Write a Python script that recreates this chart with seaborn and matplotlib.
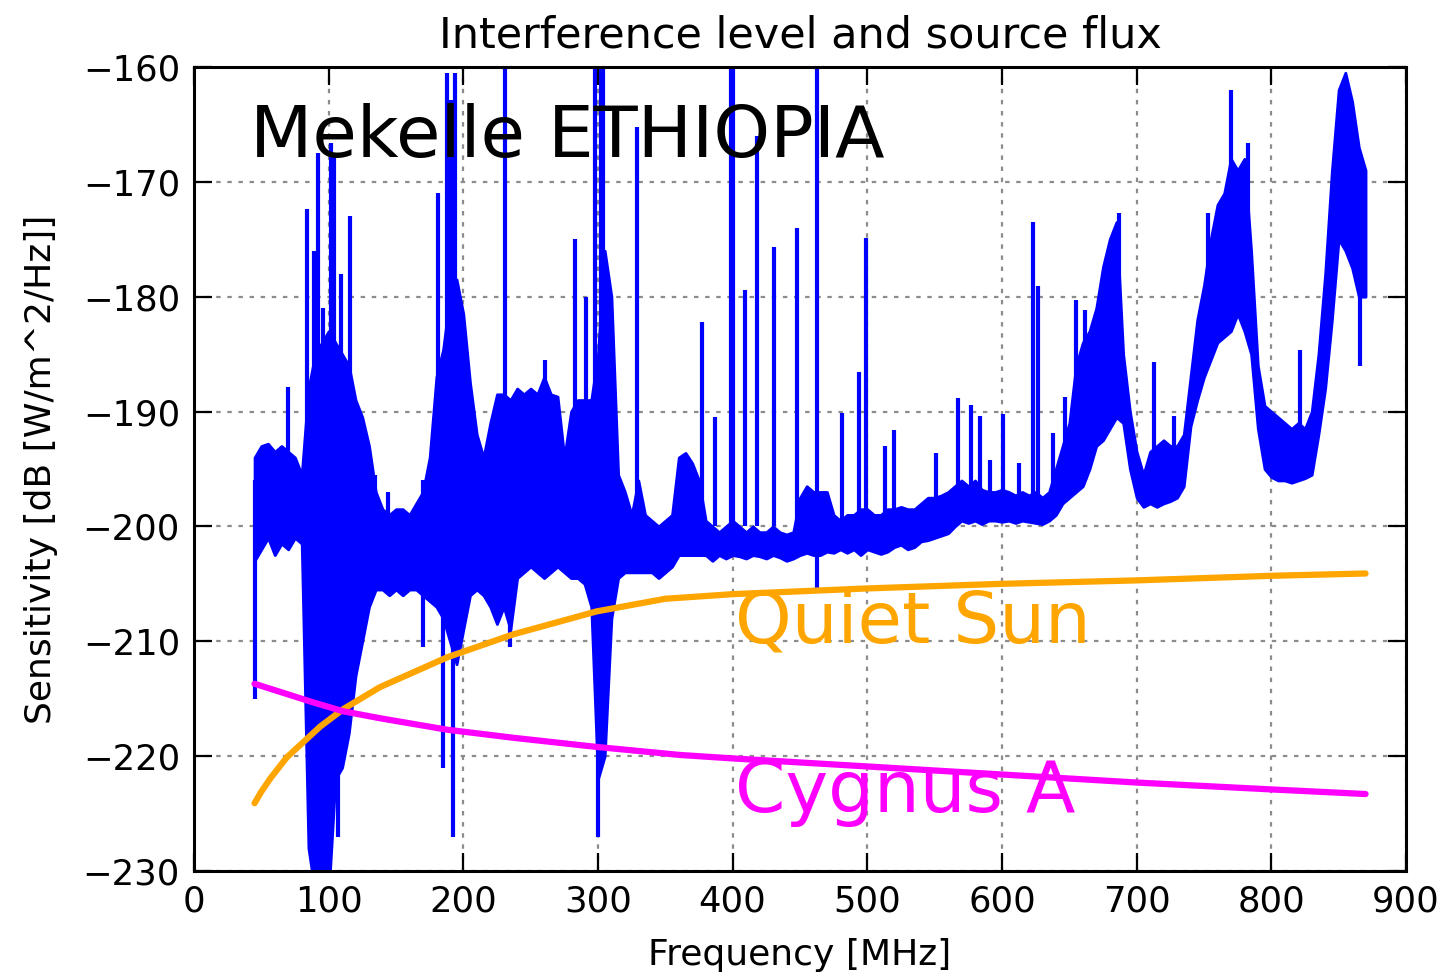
import matplotlib
matplotlib.use("Agg")
import matplotlib.pyplot as plt
import seaborn as sns

band_freq = list(range(45, 875, 5))
band_high = [
    -194, -193, -192.8, -193.5, -193, -193.5, -194, -195.5, -188, -185,
    -184, -183, -184, -185, -186, -189, -190.5, -193, -197, -198.5,
    -199, -198.5, -198.5, -199, -198, -197, -194, -187, -184.6, -180,
    -178.5, -181.5, -187.5, -192, -194, -191, -188.5, -188.5, -189, -188,
    -188.5, -188, -188.5, -187, -188.5, -188.7, -194, -190, -189, -189,
    -189, -185, -176, -180, -195.5, -197, -199, -196, -199, -199.5,
    -200, -199.5, -199, -194, -193.6, -194.5, -196, -199.5, -200, -200.5,
    -200, -199.5, -200, -200.5, -200, -200.5, -200.5, -200, -200.5, -200.7,
    -200.5, -197.5, -196.5, -197, -197, -197, -199, -199.5, -199, -199,
    -198.5, -198.5, -199, -199, -198.5, -198.5, -198.3, -198.5, -198.5, -198,
    -197.5, -197.5, -197.3, -197, -196.5, -196, -196.5, -196, -196.8, -197,
    -197, -196.8, -197, -197.3, -197, -197.3, -197, -197.5, -197, -195,
    -193, -191, -186, -184, -183, -181, -177.4, -175, -173.5, -185,
    -190, -193.5, -195.5, -193.5, -193, -192.5, -193, -193, -192, -187,
    -182, -179, -175, -172, -171, -168, -169, -168, -176, -186,
    -189.5, -190, -190.5, -191, -191.5, -191, -191.5, -190, -185, -178,
    -169, -162, -160.5, -163, -167, -169,
]
band_low = [
    -203, -202, -201, -202.5, -201.5, -202, -201, -201.5, -228, -232,
    -232, -232, -222, -221, -218, -213, -210, -207, -205.5, -205.5,
    -206, -205.5, -206, -205.5, -205.5, -206, -206.5, -207, -208, -210,
    -212, -209, -206, -205.5, -206, -207, -208.5, -207, -209, -204.5,
    -204, -203.5, -204, -204.5, -204, -203.5, -204, -204.5, -204.5, -205,
    -207, -222, -220, -208, -204.5, -204, -204, -204, -204, -204,
    -204.5, -204, -203.5, -202.5, -202.5, -202.5, -202.5, -202.5, -203, -202.5,
    -202.8, -202.5, -202.6, -202.8, -202.5, -202.6, -202.8, -202.5, -202.7, -203,
    -202.8, -202.5, -202.3, -202.5, -202.5, -202.2, -202.3, -202, -202.3, -202,
    -202.5, -202, -202.2, -202.4, -202.2, -201.8, -201.6, -202, -201.8, -201.3,
    -201.2, -201, -200.8, -200.6, -200, -199.5, -199.7, -199.5, -199.8, -199.5,
    -199.5, -199.6, -199.5, -199.7, -199.5, -199.6, -199.7, -199.8, -199.5, -199,
    -198, -197.5, -197, -196.5, -195, -193, -192.5, -191.5, -190.5, -191,
    -195, -197.5, -198.3, -198, -198.3, -198, -197.8, -197.5, -196.5, -191.3,
    -189, -187, -185.5, -184, -183.5, -183, -181.5, -183, -185, -191.5,
    -195, -195.7, -196, -196, -196.2, -196, -195.8, -195.5, -192, -188,
    -182, -175, -176, -177.5, -180, -180,
]

# narrow interference lines sticking out of the band
spike_freq = [45, 70, 84, 89, 92, 96, 102, 104, 107, 109, 116, 134.5, 144, 170,
              181, 185, 188, 191, 192, 194, 231, 235, 261, 283, 291, 298, 300,
              302, 304, 329, 377, 387, 399, 400.5, 409, 418, 431, 448, 463,
              481, 494, 499, 513, 520, 551, 567, 577, 584, 591, 601, 613, 623,
              627, 638, 647, 655, 662, 687, 713, 728, 753, 770, 783, 821, 866]
spike_top = [-196, -187.9, -172.4, -176, -167.5, -181, -166.6, -167.5, -200, -178,
             -173, -195.5, -197, -196, -171, -190, -160.5, -162.9, -195,
             -160.5, -160, -195, -185.5, -175, -180, -160, -200, -160, -160,
             -165.2, -182.2, -190.5, -160, -160, -179.4, -166, -175.7, -174,
             -160, -190.1, -186.6, -174.9, -193, -191.6, -193.6, -188.8,
             -189.4, -190.4, -194.2, -190.2, -194.5, -173.5, -179.1, -191.9,
             -188.7, -180.3, -181.2, -172.7, -185.7, -190.4, -172.7, -162,
             -166.6, -184.6, -172]
spike_bottom = [-215, -200, -195, -195, -190, -190, -190, -190, -227, -190, -195,
                -205, -205, -210.5, -195, -221, -190, -190, -227, -190, -195,
                -210.5, -195, -195, -195, -200, -227, -200, -200, -200, -200,
                -200, -200, -200, -200, -200, -200, -200, -205.5, -200, -200,
                -200, -200, -200, -199, -198, -198, -198, -198, -198, -198,
                -198, -198, -198, -197, -196, -196, -190, -197, -197, -186,
                -182, -183, -195, -186]

# source flux curves
sun_freq = [45, 50, 57, 69, 94, 111, 138, 188, 237, 299, 350, 400, 500, 600, 700, 800, 870]
sun_level = [-224.1, -223.1, -221.9, -220.1, -217.4, -215.9, -214.0, -211.4, -209.4,
             -207.4, -206.3, -205.9, -205.4, -205.0, -204.7, -204.3, -204.1]
cyg_freq = [45, 88, 111, 138, 188, 237, 299, 361, 400, 500, 600, 700, 800, 870]
cyg_level = [-213.7, -215.3, -216.1, -216.7, -217.7, -218.4, -219.2, -219.9, -220.2,
             -220.9, -221.6, -222.3, -222.9, -223.3]

sns.set_style("ticks")
plt.rcParams['font.family'] = ['DejaVu Sans']
plt.rcParams['text.color'] = 'black'
plt.rcParams['axes.labelcolor'] = 'black'
plt.rcParams['xtick.color'] = 'black'
plt.rcParams['ytick.color'] = 'black'

fig, ax = plt.subplots(figsize=(14.42, 9.76), dpi=100)
fig.subplots_adjust(left=0.1345, right=0.975, top=0.9314, bottom=0.1076)

blue = '#0000ff'
ax.fill_between(band_freq, band_low, band_high, color=blue, lw=2, edgecolor=blue, zorder=2)
ax.vlines(spike_freq, spike_bottom, spike_top, color=blue, lw=3, zorder=2)

sns.lineplot(x=sun_freq, y=sun_level, color='#ffa500', lw=4.5, ax=ax, zorder=3)
sns.lineplot(x=cyg_freq, y=cyg_level, color='#ff00ff', lw=4.5, ax=ax, zorder=3)

ax.text(41.6, -167.8, 'Mekelle ETHIOPIA', fontsize=52, color='black', zorder=4)
ax.text(401.6, -210.1, 'Quiet Sun', fontsize=52, color='#ffa500', zorder=4)
ax.text(401.6, -224.9, 'Cygnus A', fontsize=52, color='#ff00ff', zorder=4)

ax.set_xlim(0, 900)
ax.set_ylim(-230, -160)
ax.set_xticks(range(0, 901, 100))
ax.set_yticks(range(-230, -159, 10))
ax.grid(True, color='#8c8c8c', linestyle=(0, (2, 3)), lw=1.6, zorder=1)
ax.tick_params(direction='in', length=13, width=1.6, top=True, right=True,
               labelsize=25.5, pad=10)
for sp in ax.spines.values():
    sp.set_linewidth(2.2)
    sp.set_color('black')

ax.set_title('Interference level and source flux', fontsize=31, pad=14)
ax.set_xlabel('Frequency [MHz]', fontsize=26, labelpad=14)
ax.set_ylabel('Sensitivity [dB [W/m^2/Hz]]', fontsize=26, labelpad=18)

fig.savefig('out.png', dpi=100)
